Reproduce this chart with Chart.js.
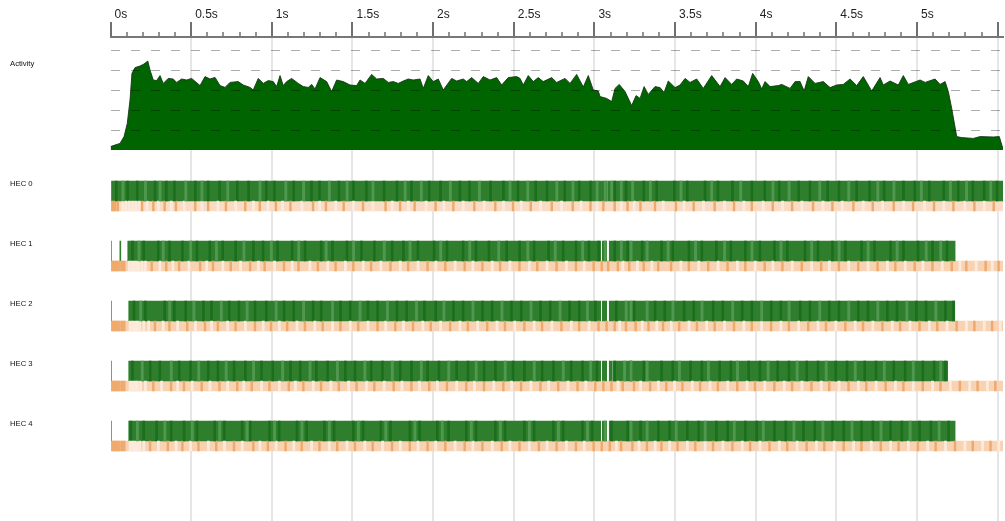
<!DOCTYPE html>
<html>
<head>
<meta charset="utf-8">
<script src="https://cdn.jsdelivr.net/npm/chart.js@4/dist/chart.umd.min.js"></script>
<style>
html,body{margin:0;padding:0;background:#fff;overflow:hidden;}
canvas{display:block;}
</style>
</head>
<body>
<canvas id="c" width="1005" height="521"></canvas>
<script>
// ---------- data ----------
const tickLabels = ['0s','0.5s','1s','1.5s','2s','2.5s','3s','3.5s','4s','4.5s','5s'];
const rowLabels = ['Activity','HEC 0','HEC 1','HEC 2','HEC 3','HEC 4'];
const traceEnd = 5.533;

const actTimes = [0,0.028,0.059,0.084,0.104,0.121,0.133,0.152,0.183,0.208,
  0.231,0.245,0.265,0.286,0.307,0.327,0.358,0.389,0.410,0.441,
  0.472,0.503,0.555,0.586,0.617,0.648,0.679,0.710,0.741,0.792,
  0.823,0.865,0.885,0.916,0.947,0.978,1.009,1.030,1.051,1.071,
  1.092,1.123,1.164,1.195,1.226,1.247,1.268,1.299,1.340,1.371,
  1.402,1.443,1.485,1.526,1.547,1.578,1.619,1.650,1.691,1.722,
  1.753,1.784,1.815,1.846,1.877,1.919,1.939,1.970,2.001,2.032,
  2.063,2.115,2.146,2.187,2.208,2.239,2.280,2.311,2.353,2.394,
  2.425,2.466,2.518,2.539,2.559,2.590,2.621,2.652,2.683,2.735,
  2.766,2.818,2.849,2.890,2.931,2.962,2.993,3.024,3.035,3.076,
  3.107,3.128,3.154,3.190,3.231,3.258,3.283,3.308,3.334,3.376,
  3.407,3.432,3.458,3.500,3.531,3.562,3.593,3.634,3.675,3.727,
  3.779,3.810,3.851,3.882,3.923,3.954,3.981,4.016,4.037,4.058,
  4.089,4.140,4.161,4.213,4.244,4.275,4.300,4.326,4.368,4.419,
  4.461,4.502,4.543,4.585,4.626,4.667,4.719,4.771,4.791,4.833,
  4.884,4.915,4.946,5.019,5.050,5.112,5.143,5.174,5.194,5.215,
  5.246,5.277,5.349,5.391,5.473,5.510,5.533];
const actCores = [0.17,0.25,0.33,0.67,1.33,2.5,3.83,4.12,4.2,4.3,
  4.45,4.0,3.5,3.47,3.72,3.33,3.58,3.55,3.38,3.55,
  3.5,3.58,3.22,3.67,3.55,3.63,3.22,3.13,3.38,3.42,
  3.25,3.13,3.0,3.58,3.33,3.47,3.42,3.17,3.72,3.22,
  3.42,3.58,3.33,3.17,3.13,3.28,3.05,3.62,3.42,2.92,
  3.5,3.42,3.25,3.22,3.5,3.33,3.78,3.55,3.58,3.38,
  3.42,3.33,3.45,3.55,3.5,3.55,3.08,3.72,3.42,3.55,
  3.0,3.58,3.45,3.55,3.42,3.62,3.33,3.67,3.5,3.62,
  3.25,3.62,3.67,3.58,3.25,3.72,3.42,3.62,3.42,3.62,
  3.38,3.58,3.33,3.78,3.15,3.72,3.0,2.95,2.67,2.58,
  2.42,3.08,3.28,2.92,2.22,2.72,2.58,3.17,2.78,3.17,
  3.12,2.88,3.45,3.12,3.25,3.58,3.38,3.55,3.08,3.72,
  3.17,3.62,3.28,3.55,3.45,3.17,3.83,3.42,3.05,3.42,
  3.17,3.22,3.28,3.08,3.42,3.42,2.95,3.67,3.33,3.42,
  3.12,3.25,3.28,3.55,3.22,3.67,2.95,3.62,3.25,3.45,
  3.25,3.72,3.28,3.5,3.38,3.55,3.28,3.42,2.92,2.08,
  0.67,0.62,0.58,0.67,0.65,0.67,0.05];

// running intervals per HEC (seconds)
const hec0Run = [[0,3.039],[3.043,3.080],[3.084,5.533]];
const hec1Run = [[0,0.006],[0.058,0.064],[0.107,3.039],[3.049,3.076],[3.092,5.236]];
const hec2Run = [[0,0.006],[0.113,3.039],[3.049,3.076],[3.092,5.234]];
const hec3Run = [[0,0.006],[0.113,3.039],[3.049,3.076],[3.092,3.107],[3.113,5.190]];
const hec4Run = [[0,0.006],[0.113,3.039],[3.049,3.076],[3.092,5.236]];

// darker / lighter streaks inside the running bars (start times, s)
const hec0RunDark = [0.03,0.1,0.16,0.27,0.34,0.39,0.52,0.6,0.67,0.78,0.85,0.96,1.01,1.13,1.24,1.29,1.41,1.5,1.58,1.69,1.77,1.86,1.97,2.04,2.16,2.22,2.35,2.43,2.52,2.63,2.7,2.81,2.9,2.97,3.12,3.19,3.3,3.38,3.49,3.57,3.68,3.76,3.85,3.97,4.05,4.14,4.26,4.33,4.44,4.51,4.62,4.7,4.79,4.91,4.98,5.07,5.16,5.25,5.34,5.41,5.49];
const hec0RunLight = [0.07,0.21,0.3,0.46,0.56,0.72,0.92,1.08,1.19,1.35,1.46,1.62,1.82,1.92,2.1,2.28,2.47,2.58,2.76,2.86,3.01,3.06,3.1,3.16,3.23,3.34,3.53,3.72,3.9,4.1,4.2,4.39,4.57,4.75,4.85,5.02,5.2,5.3,5.45];
const hec1RunDark = [0.13,0.2,0.29,0.36,0.44,0.53,0.61,0.69,0.77,0.88,0.94,1.03,1.12,1.2,1.3,1.37,1.46,1.55,1.63,1.74,1.81,1.9,2.0,2.08,2.18,2.26,2.34,2.45,2.53,2.62,2.71,2.8,2.88,2.96,3.02,3.12,3.2,3.29,3.41,3.48,3.58,3.66,3.75,3.84,3.93,4.02,4.11,4.19,4.3,4.38,4.47,4.55,4.65,4.73,4.83,4.91,5.0,5.09,5.18];
const hec1RunLight = [0.17,0.32,0.49,0.65,0.82,0.99,1.16,1.33,1.5,1.69,1.85,2.04,2.22,2.4,2.58,2.75,2.92,3.06,3.16,3.22,3.32,3.45,3.62,3.8,3.97,4.15,4.34,4.51,4.69,4.87,5.05,5.14];
const hec2RunDark = [0.14,0.21,0.33,0.39,0.46,0.57,0.62,0.73,0.79,0.89,0.96,1.07,1.13,1.25,1.3,1.42,1.48,1.59,1.65,1.77,1.83,1.94,2.01,2.12,2.18,2.3,2.36,2.48,2.54,2.66,2.72,2.84,2.9,3.0,3.13,3.24,3.37,3.43,3.55,3.61,3.73,3.79,3.91,3.97,4.09,4.15,4.27,4.33,4.45,4.51,4.63,4.69,4.81,4.87,4.99,5.05,5.17,5.22];
const hec2RunLight = [0.18,0.36,0.51,0.68,0.84,1.02,1.19,1.37,1.54,1.71,1.89,2.06,2.24,2.42,2.6,2.78,2.95,3.19,3.22,3.32,3.48,3.66,3.85,4.03,4.2,4.39,4.57,4.75,4.93,5.11];
const hec3RunDark = [0.13,0.24,0.3,0.42,0.49,0.6,0.66,0.76,0.83,0.93,1.0,1.11,1.17,1.27,1.34,1.45,1.51,1.61,1.68,1.79,1.86,1.96,2.03,2.14,2.21,2.31,2.38,2.49,2.56,2.67,2.74,2.85,2.92,3.01,3.12,3.22,3.3,3.41,3.48,3.59,3.66,3.77,3.84,3.95,4.02,4.13,4.2,4.31,4.38,4.49,4.56,4.67,4.74,4.85,4.92,5.03,5.1,5.17];
const hec3RunLight = [0.19,0.37,0.54,0.71,0.88,1.06,1.23,1.4,1.57,1.74,1.92,2.09,2.26,2.44,2.62,2.8,2.97,3.18,3.22,3.32,3.52,3.7,3.88,4.07,4.25,4.43,4.61,4.79,4.97,5.14];
const hec4RunDark = [0.12,0.2,0.28,0.37,0.45,0.53,0.64,0.7,0.81,0.86,0.98,1.04,1.15,1.21,1.32,1.38,1.5,1.56,1.67,1.73,1.85,1.91,2.02,2.09,2.2,2.26,2.38,2.44,2.56,2.62,2.74,2.8,2.92,2.98,3.1,3.2,3.28,3.39,3.46,3.57,3.64,3.75,3.82,3.93,4.0,4.11,4.18,4.29,4.36,4.47,4.54,4.65,4.72,4.83,4.9,5.01,5.08,5.19];
const hec4RunLight = [0.16,0.33,0.5,0.67,0.84,1.01,1.18,1.35,1.53,1.7,1.88,2.05,2.23,2.41,2.59,2.77,2.95,3.06,3.22,3.32,3.5,3.68,3.86,4.04,4.23,4.41,4.59,4.77,4.95,5.13];

// GC strip per HEC: extent plus darker / lighter streaks (start times, s)
const hecGcSpan = [0, traceEnd];
const hec0GcDark = [0,0.012,0.024,0.04,0.19,0.26,0.33,0.4,0.52,0.6,0.71,0.83,0.92,1.02,1.11,1.25,1.33,1.44,1.56,1.7,1.79,1.88,2.01,2.12,2.25,2.38,2.49,2.6,2.73,2.86,2.97,3.05,3.12,3.2,3.28,3.37,3.5,3.61,3.74,3.86,3.97,4.1,4.22,4.35,4.47,4.6,4.72,4.85,4.97,5.1,5.22,5.35,5.47];
const hec0GcLight = [0.07,0.09,0.11,0.13,0.15,0.17,0.22,0.29,0.37,0.45,0.56,0.66,0.77,0.88,0.97,1.06,1.18,1.29,1.39,1.5,1.62,1.74,1.84,1.95,2.06,2.18,2.31,2.43,2.54,2.66,2.79,2.91,3.01,3.16,3.24,3.42,3.55,3.67,3.8,3.92,4.04,4.16,4.28,4.41,4.53,4.66,4.78,4.91,5.04,5.16,5.29,5.41];
const hec1GcDark = [0,0.012,0.024,0.036,0.05,0.065,0.08,0.25,0.34,0.42,0.55,0.63,0.74,0.86,0.95,1.07,1.16,1.28,1.39,1.5,1.61,1.73,1.84,1.96,2.07,2.19,2.3,2.41,2.53,2.64,2.76,2.88,2.99,3.04,3.08,3.14,3.21,3.3,3.39,3.47,3.58,3.7,3.82,3.93,4.05,4.16,4.28,4.4,4.51,4.63,4.75,4.86,4.98,5.09,5.21,5.3,5.42,5.5];
const hec1GcLight = [0.11,0.125,0.14,0.155,0.17,0.19,0.21,0.3,0.38,0.48,0.59,0.69,0.8,0.91,1.01,1.12,1.23,1.34,1.45,1.56,1.67,1.79,1.9,2.01,2.13,2.24,2.36,2.47,2.59,2.7,2.82,2.93,3.17,3.26,3.35,3.53,3.64,3.76,3.88,3.99,4.1,4.22,4.34,4.45,4.57,4.69,4.81,4.92,5.03,5.15,5.26,5.36,5.46];
const hec2GcDark = [0,0.012,0.024,0.036,0.05,0.065,0.08,0.27,0.36,0.47,0.58,0.66,0.77,0.89,0.99,1.09,1.2,1.31,1.42,1.53,1.65,1.76,1.87,1.98,2.1,2.21,2.33,2.44,2.56,2.67,2.79,2.9,3.02,3.07,3.12,3.19,3.25,3.33,3.42,3.52,3.63,3.74,3.86,3.97,4.09,4.2,4.32,4.43,4.55,4.66,4.78,4.89,5.01,5.12,5.24,5.35,5.46];
const hec2GcLight = [0.115,0.13,0.145,0.16,0.175,0.2,0.23,0.32,0.41,0.52,0.62,0.72,0.83,0.94,1.04,1.15,1.26,1.37,1.48,1.59,1.7,1.81,1.93,2.04,2.16,2.27,2.39,2.5,2.62,2.73,2.85,2.96,3.15,3.29,3.38,3.47,3.58,3.69,3.8,3.92,4.03,4.15,4.26,4.38,4.49,4.61,4.72,4.84,4.95,5.07,5.18,5.3,5.41,5.51];
const hec3GcDark = [0,0.012,0.024,0.036,0.05,0.065,0.08,0.26,0.37,0.45,0.56,0.67,0.78,0.87,0.98,1.1,1.19,1.3,1.41,1.52,1.63,1.75,1.86,1.97,2.08,2.2,2.31,2.43,2.54,2.66,2.77,2.89,3.0,3.05,3.1,3.17,3.24,3.34,3.44,3.54,3.65,3.76,3.88,3.99,4.11,4.22,4.34,4.45,4.57,4.68,4.8,4.91,5.03,5.14,5.26,5.37,5.48];
const hec3GcLight = [0.115,0.13,0.145,0.16,0.18,0.21,0.31,0.41,0.5,0.61,0.72,0.82,0.93,1.04,1.14,1.25,1.36,1.47,1.58,1.69,1.8,1.91,2.02,2.14,2.25,2.37,2.48,2.6,2.71,2.83,2.94,3.14,3.28,3.39,3.49,3.6,3.71,3.82,3.94,4.05,4.17,4.28,4.4,4.51,4.63,4.74,4.86,4.97,5.09,5.2,5.32,5.43];
const hec4GcDark = [0,0.012,0.024,0.036,0.05,0.065,0.08,0.24,0.35,0.44,0.54,0.65,0.76,0.88,0.97,1.08,1.18,1.29,1.4,1.51,1.62,1.74,1.85,1.96,2.07,2.19,2.3,2.42,2.53,2.65,2.76,2.88,2.99,3.04,3.09,3.16,3.23,3.32,3.41,3.51,3.62,3.73,3.85,3.96,4.08,4.19,4.31,4.42,4.54,4.65,4.77,4.88,5.0,5.11,5.23,5.34,5.45];
const hec4GcLight = [0.115,0.13,0.145,0.16,0.175,0.2,0.29,0.4,0.49,0.6,0.7,0.81,0.92,1.02,1.13,1.24,1.35,1.46,1.57,1.68,1.79,1.9,2.01,2.13,2.24,2.36,2.47,2.59,2.7,2.82,2.93,3.13,3.27,3.37,3.46,3.57,3.68,3.79,3.91,4.02,4.14,4.25,4.37,4.48,4.6,4.71,4.83,4.94,5.06,5.17,5.29,5.4,5.5];

// ---------- chart ----------
const FONT = "'Liberation Sans', Arial, Helvetica, sans-serif";
Chart.defaults.font.family = FONT;

const hecRuns = [hec0Run, hec1Run, hec2Run, hec3Run, hec4Run];
const hecRunDark = [hec0RunDark, hec1RunDark, hec2RunDark, hec3RunDark, hec4RunDark];
const hecRunLight = [hec0RunLight, hec1RunLight, hec2RunLight, hec3RunLight, hec4RunLight];
const hecGcDark = [hec0GcDark, hec1GcDark, hec2GcDark, hec3GcDark, hec4GcDark];
const hecGcLight = [hec0GcLight, hec1GcLight, hec2GcLight, hec3GcLight, hec4GcLight];

const RUN_OFF = 7/60, GC_OFF = 22/60;   // bar centres relative to the row label
const inRun = (runs, a, b) => runs.some(([s, e]) => a >= s && b <= e);

function hbar(label, data, color, thick, order) {
  return { type: 'bar', label, data, backgroundColor: color, indexAxis: 'y',
    xAxisID: 'x', yAxisID: 'yRow', barThickness: thick, stack: 'hec',
    borderWidth: 0, order };
}

const datasets = [{
  type: 'line', label: 'Activity',
  data: actTimes.map((t, i) => ({ x: t, y: actCores[i] })),
  xAxisID: 'x', yAxisID: 'yAct',
  fill: 'origin', backgroundColor: '#006400',
  borderColor: 'rgba(25,55,25,0.9)', borderWidth: 1,
  pointRadius: 0, tension: 0, order: 1
}];

hecRuns.forEach((runs, r) => {
  const yR = r + RUN_OFF, yG = r + GC_OFF;
  datasets.push(hbar('run', runs.map(([s, e]) => ({ x: [s, e], y: yR })), '#2e7e2e', 20, 6));
  datasets.push(hbar('runDark', hecRunDark[r].filter(t => inRun(runs, t, t + 0.012))
    .map(t => ({ x: [t, t + 0.012], y: yR })), '#1b6e1b', 20, 4));
  datasets.push(hbar('runLight', hecRunLight[r].filter(t => inRun(runs, t, t + 0.014))
    .map(t => ({ x: [t, t + 0.014], y: yR })), '#509850', 20, 3));
  datasets.push(hbar('gc', [{ x: hecGcSpan, y: yG }], r === 0 ? '#f9dcc5' : '#f7d3b3', 10, 6));
  datasets.push(hbar('gcDark', hecGcDark[r].map(t => ({ x: [t, t + 0.011], y: yG })), '#efa96b', 10, 4));
  datasets.push(hbar('gcLight', hecGcLight[r].map(t => ({ x: [t, t + 0.013], y: yG })), '#fcebdc', 10, 3));
});

const isMajor = v => Math.abs(v * 2 - Math.round(v * 2)) < 1e-6;

new Chart(document.getElementById('c'), {
  type: 'line',
  data: { datasets },
  options: {
    responsive: false, animation: false, events: [],
    layout: { padding: { top: 7, left: 10, right: 2, bottom: 0 } },
    plugins: { legend: { display: false }, tooltip: { enabled: false } },
    scales: {
      x: {
        type: 'linear', axis: 'x', position: 'top', min: 0, max: traceEnd, offset: false, stacked: false,
        ticks: {
          stepSize: 0.1, autoSkip: false, maxRotation: 0, includeBounds: false, maxTicksLimit: 200,
          align: 'start', labelOffset: 4, padding: 0, color: '#222', font: { size: 12 },
          callback: v => isMajor(v) ? (tickLabels[Math.round(v * 2)] ?? '') : ''
        },
        grid: {
          offset: false, lineWidth: 2, tickLength: 15,
          color: c => (c.tick && isMajor(c.tick.value) && c.tick.value > 0) ? '#e6e6e6' : 'rgba(0,0,0,0)',
          tickColor: '#707070',
          tickWidth: c => (c.tick && isMajor(c.tick.value)) ? 2 : 1.5,
          tickBorderDash: [15, 10],
          tickBorderDashOffset: c => (c.tick && isMajor(c.tick.value)) ? 0 : 15
        },
        border: { display: true, color: '#777', width: 2 },
        afterFit: s => { s.height = 30; s.paddingLeft = 0; s.paddingRight = 0; }
      },
      yAct: {
        type: 'linear', axis: 'y', position: 'left', min: -18.55, max: 5.65, offset: false, stacked: false,
        ticks: { display: false, stepSize: 1, includeBounds: false },
        grid: {
          z: 1, drawTicks: false, lineWidth: 1, offset: false,
          color: c => (c.tick && c.tick.value >= 1 && c.tick.value <= 5) ? 'rgba(0,0,0,0.32)' : 'rgba(0,0,0,0)'
        },
        border: { display: false, dash: [9, 11] },
        afterFit: s => { s.width = 0; s.paddingTop = 0; s.paddingBottom = 0; }
      },
      yRow: {
        type: 'linear', axis: 'y', position: 'left', reverse: true, min: -2.45, max: 5.6167, offset: false,
        ticks: {
          stepSize: 1, includeBounds: false, crossAlign: 'far', padding: 0,
          color: '#111', font: { size: 7.7 },
          callback: v => v === -2 ? rowLabels[0] : (v >= 0 && v <= 4 ? rowLabels[v + 1] : '')
        },
        grid: { display: false, drawTicks: false, offset: false },
        border: { display: false },
        afterFit: s => { s.width = 100.5; s.paddingTop = 0; s.paddingBottom = 0; }
      }
    }
  }
});
</script>
</body>
</html>
